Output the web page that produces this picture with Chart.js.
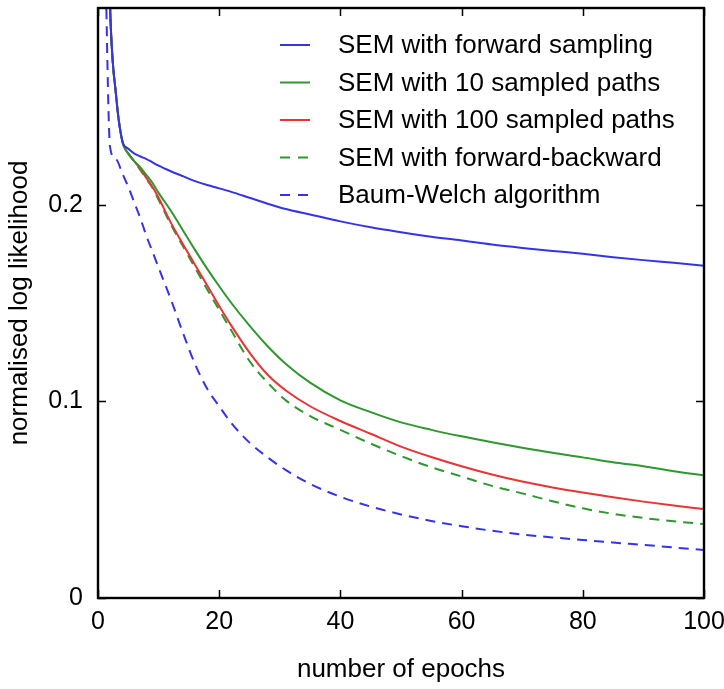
<!DOCTYPE html>
<html>
<head>
<meta charset="utf-8">
<script src="https://cdn.jsdelivr.net/npm/chart.js@4"></script>
<style>
  html, body { margin: 0; padding: 0; background: #fff; }
  #wrap { width: 724px; height: 689px; }
</style>
</head>
<body>
<div id="wrap"><canvas id="grafico"></canvas></div>
<script>
// epochs shared by all series
const epocas = [1, 2, 3, 4, 5, 6, 7, 8, 9, 10, 12, 14, 16, 18, 20, 22, 25, 28, 31, 35, 40, 45, 50, 55, 60, 65, 70, 75, 80, 85, 90, 95, 100]

const semForward = [0.45, 0.30, 0.255, 0.2325, 0.2284, 0.226, 0.2245, 0.2232, 0.2215, 0.2198, 0.217, 0.2145, 0.212, 0.210, 0.2083, 0.2065, 0.2035, 0.2005, 0.1978, 0.195, 0.1915, 0.1885, 0.186, 0.1837, 0.1818, 0.1797, 0.178, 0.1765, 0.175, 0.1733, 0.1718, 0.1705, 0.169]
const sem10      = [0.45, 0.30, 0.255, 0.2325, 0.226, 0.222, 0.219, 0.215, 0.211, 0.206, 0.197, 0.187, 0.177, 0.1675, 0.1585, 0.150, 0.1385, 0.128, 0.119, 0.1095, 0.1005, 0.0945, 0.0893, 0.0855, 0.0822, 0.0792, 0.0764, 0.0738, 0.0715, 0.069, 0.067, 0.0645, 0.0624]
const sem100     = [0.45, 0.30, 0.255, 0.2325, 0.226, 0.222, 0.218, 0.2135, 0.209, 0.2035, 0.191, 0.180, 0.1695, 0.159, 0.1485, 0.1385, 0.1248, 0.1135, 0.1055, 0.0975, 0.090, 0.0835, 0.077, 0.0717, 0.067, 0.0628, 0.0592, 0.0562, 0.0536, 0.0512, 0.049, 0.047, 0.0452]
const semFwdBwd  = [0.45, 0.30, 0.255, 0.2325, 0.226, 0.222, 0.2175, 0.213, 0.2085, 0.2025, 0.190, 0.179, 0.168, 0.157, 0.1465, 0.136, 0.1205, 0.1095, 0.1005, 0.0925, 0.0855, 0.0785, 0.0722, 0.0665, 0.0618, 0.057, 0.0532, 0.0492, 0.0456, 0.0428, 0.0407, 0.039, 0.0376]
const baumWelch  = [0.36, 0.229, 0.223, 0.216, 0.209, 0.201, 0.193, 0.184, 0.176, 0.168, 0.152, 0.135, 0.119, 0.1065, 0.0975, 0.089, 0.079, 0.0715, 0.065, 0.058, 0.0515, 0.0465, 0.0425, 0.0392, 0.0365, 0.0342, 0.0323, 0.0308, 0.0295, 0.0282, 0.027, 0.0257, 0.0244]

const ticksX = [0, 20, 40, 60, 80, 100]
const ticksY = [0, 0.1, 0.2]

const fonte = '"Liberation Sans", Arial, sans-serif'

const pontos = valores => valores.map((v, i) => ({ x: epocas[i], y: v }))

const serie = (label, valores, cor, tracejado) => ({
    label: label,
    data: pontos(valores),
    borderColor: cor,
    borderWidth: 2,
    borderDash: tracejado ? [10, 7] : [],
    pointRadius: 0,
    fill: false,
    cubicInterpolationMode: "monotone",
})

// moldura com marcas para dentro + legenda dentro da area
const molduraPlugin = {
    id: "moldura",
    afterDatasetsDraw(chart) {
        const { ctx, chartArea: a, scales } = chart
        ctx.save()
        ctx.strokeStyle = "#000"
        ctx.lineWidth = 1.5
        ctx.setLineDash([])
        ticksX.forEach(t => {
            const px = Math.round(scales.x.getPixelForValue(t)) + 0.5
            ctx.beginPath()
            ctx.moveTo(px, a.bottom); ctx.lineTo(px, a.bottom - 8)
            ctx.moveTo(px, a.top); ctx.lineTo(px, a.top + 8)
            ctx.stroke()
        })
        ticksY.forEach(t => {
            const py = Math.round(scales.y.getPixelForValue(t)) + 0.5
            ctx.beginPath()
            ctx.moveTo(a.left, py); ctx.lineTo(a.left + 8, py)
            ctx.moveTo(a.right, py); ctx.lineTo(a.right - 8, py)
            ctx.stroke()
        })
        ctx.lineWidth = 2.4
        ctx.strokeRect(a.left, a.top, a.right - a.left, a.bottom - a.top)

        // legenda
        ctx.font = "26px " + fonte
        ctx.textBaseline = "middle"
        ctx.fillStyle = "#000"
        chart.data.datasets.forEach((ds, i) => {
            const y = 45 + i * 37.5
            ctx.strokeStyle = ds.borderColor
            ctx.lineWidth = 2
            ctx.setLineDash(ds.borderDash.length ? [10, 8] : [])
            ctx.beginPath()
            ctx.moveTo(280, y); ctx.lineTo(310, y)
            ctx.stroke()
            ctx.fillText(ds.label, 338, y + 1)
        })
        ctx.restore()
    }
}

let grafico = new Chart(
    document.getElementById("grafico"),
    {
        type: "line",
        data: {
            datasets: [
                serie("SEM with forward sampling", semForward, "#3434e6", false),
                serie("SEM with 10 sampled paths", sem10, "#2e972e", false),
                serie("SEM with 100 sampled paths", sem100, "#e83434", false),
                serie("SEM with forward-backward", semFwdBwd, "#2e972e", true),
                serie("Baum-Welch algorithm", baumWelch, "#3434e6", true),
            ]
        },
        options: {
            responsive: true,
            maintainAspectRatio: false,
            animation: false,
            layout: { padding: { top: 8, right: 20, left: 0, bottom: 0 } },
            plugins: {
                legend: { display: false },
                tooltip: { enabled: false },
            },
            scales: {
                x: {
                    type: "linear",
                    min: 0,
                    max: 100,
                    afterBuildTicks: s => { s.ticks = ticksX.map(v => ({ value: v })) },
                    grid: { display: false, drawTicks: false },
                    border: { display: false },
                    ticks: {
                        color: "#000",
                        font: { family: fonte, size: 25 },
                        padding: 9,
                        maxRotation: 0,
                    },
                    title: {
                        display: true,
                        text: "number of epochs",
                        color: "#000",
                        font: { family: fonte, size: 26 },
                        padding: { top: 0, bottom: 4 },
                    },
                    afterFit: s => {
                        s.height = 91
                        s.paddingLeft = 0
                        s.paddingRight = 0
                    },
                },
                y: {
                    min: 0,
                    max: 0.3,
                    afterBuildTicks: s => { s.ticks = ticksY.map(v => ({ value: v })) },
                    grid: { display: false, drawTicks: false },
                    border: { display: false },
                    ticks: {
                        color: "#000",
                        font: { family: fonte, size: 25 },
                        padding: 15,
                        callback: v => String(v),
                    },
                    title: {
                        display: true,
                        text: "normalised log likelihood",
                        color: "#000",
                        font: { family: fonte, size: 26 },
                        padding: { top: 4, bottom: 0 },
                    },
                    afterFit: s => {
                        s.width = 98
                        s.paddingTop = 0
                        s.paddingBottom = 0
                    },
                },
            },
        },
        plugins: [molduraPlugin],
    }
)
</script>
</body>
</html>
